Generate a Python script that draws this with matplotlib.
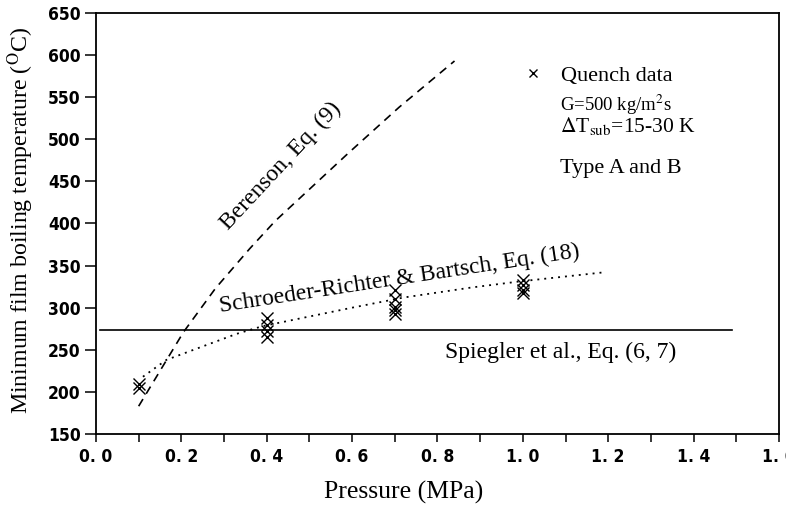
import matplotlib
matplotlib.use("Agg")
import matplotlib.pyplot as plt
from matplotlib.font_manager import FontProperties
from matplotlib.ticker import MultipleLocator, FixedLocator, FixedFormatter

# Quench measurements: pressure (MPa) and minimum film boiling temperature (degC)
quench_p = [0.1, 0.1, 0.4, 0.4, 0.4, 0.4, 0.7, 0.7, 0.7, 0.7, 0.7, 1.0, 1.0, 1.0, 1.0]
quench_t = [205, 209, 288, 280, 272, 265, 321, 310, 301, 297, 293, 333, 327, 321, 318]

# Berenson correlation, Eq. (9)
berenson_p = [0.10, 0.205, 0.28, 0.36, 0.42, 0.59, 0.71, 0.84]
berenson_t = [183, 271, 323, 370, 403, 483, 538, 593]

# Schroeder-Richter & Bartsch, Eq. (18)
schroeder_p = [0.11, 0.165, 0.25, 0.33, 0.39, 0.60, 0.72, 0.88, 0.99, 1.19]
schroeder_t = [218, 238, 254, 269, 278, 300, 312, 324, 331, 342]

# Spiegler et al., Eq. (6, 7)
spiegler_p = [0.01, 1.49]
spiegler_t = [273, 273]

x_ticks = [0.0, 0.2, 0.4, 0.6, 0.8, 1.0, 1.2, 1.4, 1.6]
x_tick_labels = ["0. 0", "0. 2", "0. 4", "0. 6", "0. 8", "1. 0", "1. 2", "1. 4", "1. 6"]
y_ticks = [150, 200, 250, 300, 350, 400, 450, 500, 550, 600, 650]

plt.rcParams["mathtext.fontset"] = "stix"
plt.rcParams["lines.scale_dashes"] = False
serif = "Liberation Serif"

fig = plt.figure(figsize=(7.86, 5.08), dpi=100)
ax = fig.add_axes([0.1221, 0.1457, 0.8689, 0.8287])

ax.plot(spiegler_p, spiegler_t, color="black", lw=1.2)
ax.plot(berenson_p, berenson_t, color="black", lw=1.2, dashes=(6, 4.5))
ax.plot(schroeder_p, schroeder_t, color="black", lw=1.3, dashes=(1.4, 3.6))
quench, = ax.plot(quench_p, quench_t, ls="none", marker="x", ms=8, mew=1.0,
                  color="black")

ax.set_xlim(0, 1.6)
ax.set_ylim(150, 650)
ax.xaxis.set_major_locator(FixedLocator(x_ticks))
ax.xaxis.set_major_formatter(FixedFormatter(x_tick_labels))
ax.xaxis.set_minor_locator(MultipleLocator(0.1))
ax.yaxis.set_major_locator(FixedLocator(y_ticks))

tick_font = FontProperties(family="DejaVu Sans", weight="bold", stretch="condensed", size=12.5)
for lab in ax.get_xticklabels() + ax.get_yticklabels():
    lab.set_fontproperties(tick_font)

ax.tick_params(axis="both", which="both", direction="out", width=1.1, color="black")
ax.tick_params(axis="x", which="both", length=6, pad=4)
ax.tick_params(axis="y", which="major", length=8, pad=3)
for s in ax.spines.values():
    s.set_linewidth(1.3)

ax.set_xlabel("Pressure (MPa)", family=serif, fontsize=18.5, va="center")
ax.xaxis.set_label_coords(0.451, -0.140)
ax.set_ylabel(r"Minimum film boiling temperature ($^{\mathrm{O}}$C)", family=serif,
              fontsize=17.2, va="center")
ax.yaxis.set_label_coords(-0.110, 0.508)

ax.text(0.434, 468, "Berenson, Eq. (9)", family=serif, fontsize=17, rotation=47,
        ha="center", va="center", rotation_mode="anchor")
ax.text(0.714, 327, "Schroeder-Richter & Bartsch, Eq. (18)", family=serif, fontsize=17,
        rotation=8.7, ha="center", va="baseline", rotation_mode="anchor")
ax.text(0.817, 240, "Spiegler et al., Eq. (6, 7)", family=serif, fontsize=17,
        ha="left", va="baseline")

ax.legend([quench], ["Quench data"], loc="center left", bbox_to_anchor=(0.624, 0.851),
          frameon=False, prop=dict(family=serif, size=16), handlelength=1.0,
          handletextpad=0.75, borderpad=0, borderaxespad=0, markerscale=0.75)
ax.text(1.087, 534, r"G=500 kg/m$^{2}$s", family=serif, fontsize=13.5, ha="left",
        va="baseline")
ax.text(1.087, 509, r"$\Delta$T$_{\mathrm{sub}}$=15-30 K", family=serif, fontsize=15.5,
        ha="left", va="baseline")
ax.text(1.087, 460, "Type A and B", family=serif, fontsize=16, ha="left", va="baseline")

fig.savefig("out.png", dpi=100)
